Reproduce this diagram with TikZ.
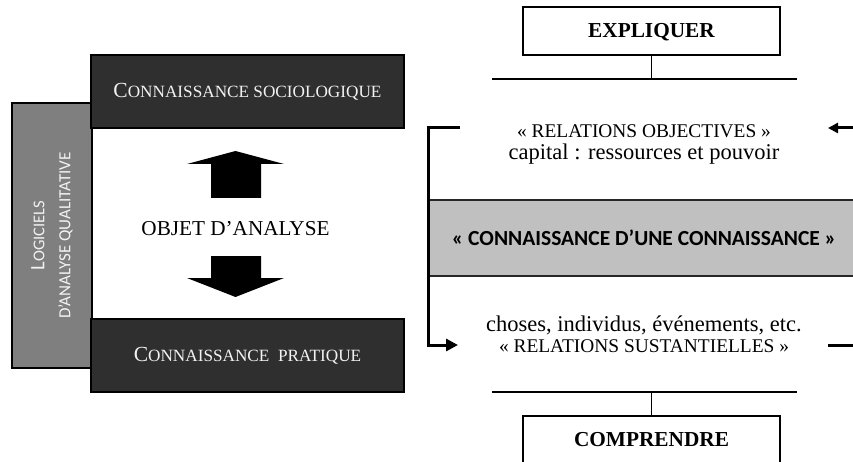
\documentclass[tikz,border=0pt]{standalone}
\usepackage{fontspec}
\setmainfont{Liberation Serif}
\newfontfamily\carlito{Carlito}
\usetikzlibrary{arrows.meta}

\definecolor{darkbox}{HTML}{2F2F2F}
\definecolor{sidebox}{HTML}{7F7F7F}
\definecolor{bandgray}{HTML}{C0C0C0}
\definecolor{paletext}{HTML}{F2F2F2}

% font size shortcut
\newcommand\fsz[1]{\fontsize{#1}{#1}\selectfont}

\begin{document}
\begin{tikzpicture}[x=1pt,y=-1pt,
  darkpanel/.style={draw=black, line width=1.5pt, fill=darkbox, text=paletext,
    minimum width=313pt, minimum height=73pt, inner sep=0pt},
  sidepanel/.style={draw=black, line width=1.2pt, fill=sidebox, text=paletext,
    inner sep=0pt, align=center},
  framebox/.style={draw=black, line width=1.5pt, fill=white,
    minimum width=257pt, inner sep=0pt},
  thinrule/.style={line width=1.2pt},
  bandrule/.style={line width=1.2pt, draw=black!85},
  bracketline/.style={line width=3pt},
  blockarrow/.style={fill=black},
  serifcaps/.style={inner sep=0pt, anchor=base, font=\fsz{19.4}},
  seriflower/.style={inner sep=0pt, anchor=base, font=\fsz{22.5}},
  boldtitle/.style={inner sep=0pt, font=\bfseries\fsz{21.3}},
]
\clip (0,0) rectangle (853,462);
\fill[white] (0,0) rectangle (853,462);

% ---------- left: analysis object between two kinds of knowledge ----------
\node[sidepanel, rotate=90, minimum width=265pt, minimum height=80pt,
      font={\carlito\fontsize{17}{26}\selectfont}] (logiciels) at (52,235.5)
  {{\fontsize{20.5}{26}\selectfont L}{\fontsize{16.5}{26}\selectfont OGICIELS}\\D’ANALYSE QUALITATIVE};

\node[darkpanel] (socio) at (247.5,91.5)
  {{\fsz{21.5}C}{\fsz{17.2}ONNAISSANCE SOCIOLOGIQUE}};
\node[darkpanel] (pratique) at (247.5,355.5)
  {{\fsz{21.5}C}{\fsz{17.2}ONNAISSANCE\ \ PRATIQUE}};

\fill[blockarrow] (211,198) -- (211,164) -- (187,164) -- (235.5,151)
  -- (284,164) -- (261,164) -- (261,198) -- cycle;
\fill[blockarrow] (211,256) -- (261,256) -- (261,278) -- (284,278)
  -- (235.5,297) -- (187,278) -- (211,278) -- cycle;

\node[inner sep=0pt, font=\fsz{21.2}] (objet) at (235.5,229) {OBJET D’ANALYSE};

% ---------- right: explain / understand ----------
\node[framebox, minimum height=48pt] (expliquer) at (651.5,31) {};
\node[boldtitle] (expliquertxt) at (651.5,32) {EXPLIQUER};
\coordinate (topruleL) at (492,79);
\coordinate (topruleR) at (797,79);
\draw[thinrule] (topruleL) -- (topruleR);
\draw[thinrule] (expliquer.south) -- (expliquer.south |- topruleL);

\node[serifcaps] (objectives) at (644,137.5) {« RELATIONS OBJECTIVES »};
\node[seriflower] (capital) at (644,160) {capital : ressources et pouvoir};

% central band
\fill[bandgray] (430,200) rectangle (860,276);
\draw[bandrule] (430,200) -- (860,200);
\draw[bandrule] (430,276) -- (860,276);
\node[inner sep=0pt, font=\carlito\bfseries\fsz{21.5}] (connaissance) at (644,238)
  {« CONNAISSANCE D’UNE CONNAISSANCE »};

\node[seriflower] (choses) at (644,331) {choses, individus, événements, etc.};
\node[serifcaps] (substantielles) at (644,352) {« RELATIONS SUSTANTIELLES »};

\coordinate (botruleL) at (492,392);
\coordinate (botruleR) at (797,392);
\draw[thinrule] (botruleL) -- (botruleR);
\node[framebox, minimum height=60pt, anchor=north] (comprendre) at (651.5,415) {};
\node[boldtitle] (comprendretxt) at (651.5,440) {COMPRENDRE};
\draw[thinrule] (comprendre.north) -- (comprendre.north |- botruleL);

% bracket leading from the objective relations down to the substantial ones
\coordinate (brstart) at (460,128);
\coordinate (brtop) at (428,128);
\coordinate (brbot) at (428,345);
\coordinate (brend) at (458,345);
\draw[bracketline, -{Triangle[length=12pt,width=12pt]}]
  (brstart) -- (brtop) -- (brbot) -- (brend);

% short strokes on the right edge
\coordinate (rtopout) at (855,128);
\coordinate (rtopin) at (828,128);
\draw[bracketline, -{Triangle[length=10pt,width=10pt]}] (rtopout) -- (rtopin);
\coordinate (rbotin) at (828,345);
\coordinate (rbotout) at (855,345);
\draw[bracketline] (rbotin) -- (rbotout);
\end{tikzpicture}
\end{document}
